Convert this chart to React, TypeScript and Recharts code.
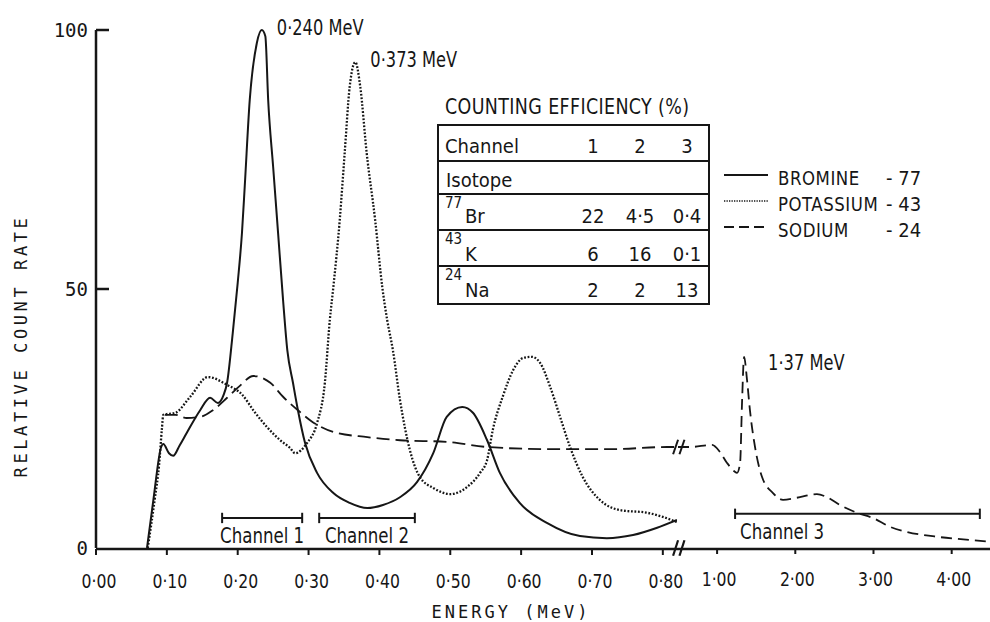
import { LineChart, Line, XAxis, YAxis, ReferenceLine, ReferenceDot } from 'recharts'

const INK = '#161616'
const NARROW = "'Liberation Sans Narrow', 'DejaVu Sans Condensed', 'Liberation Sans', sans-serif"
const MONO = "'DejaVu Sans Mono', 'Liberation Mono', monospace"

// [energy (MeV), relative count rate]
const bromine: [number, number][] = [
  [0.072, 0], [0.081, 9.3], [0.092, 19.5], [0.095, 20.1], [0.103, 18.3], [0.109, 17.8],
  [0.118, 19.8], [0.128, 22.2], [0.147, 26.6], [0.161, 29.0], [0.172, 28.0], [0.18, 29.5],
  [0.185, 31.9], [0.193, 41.5], [0.2, 51.2], [0.206, 60.8], [0.21, 70], [0.217, 86.5],
  [0.227, 97.5], [0.234, 100], [0.239, 98.8], [0.243, 86.5], [0.25, 73.6], [0.257, 60.8],
  [0.264, 47.9], [0.27, 38.2], [0.278, 31.9], [0.285, 26.6], [0.295, 20.3], [0.312, 14.5],
  [0.335, 10.6], [0.358, 8.7], [0.383, 7.7], [0.405, 8.3], [0.429, 9.8], [0.453, 12.7],
  [0.476, 18.3], [0.495, 25.3], [0.517, 27.2], [0.532, 26.1], [0.552, 20.8], [0.57, 14.5],
  [0.598, 8.7], [0.637, 4.8], [0.683, 2.3], [0.721, 1.9], [0.758, 2.5], [0.792, 3.9], [0.82, 5.4],
]

const potassium: [number, number][] = [
  [0.073, 0], [0.083, 9.5], [0.089, 16], [0.093, 23], [0.095, 25.7], [0.112, 26.1],
  [0.133, 29.2], [0.158, 33.0], [0.185, 31.5], [0.207, 29.5], [0.222, 26.6], [0.241, 23.4],
  [0.26, 20.8], [0.274, 19.3], [0.281, 18.3], [0.298, 20.3], [0.312, 24.1], [0.323, 31.9],
  [0.33, 44.0], [0.335, 50.4], [0.344, 63.3], [0.351, 76.3], [0.358, 89.0], [0.366, 93.8],
  [0.373, 89.0], [0.382, 76.3], [0.394, 63.3], [0.404, 50.4], [0.411, 44.0], [0.419, 38.2],
  [0.429, 28.6], [0.443, 18.9], [0.457, 13.7], [0.476, 11.6], [0.5, 10.4], [0.524, 11.8],
  [0.542, 14.5], [0.552, 17.0], [0.56, 22.8], [0.574, 29.2], [0.589, 34.4], [0.603, 36.7],
  [0.615, 36.9], [0.627, 35.7], [0.641, 31.1], [0.655, 25.3], [0.669, 19.5], [0.687, 13.7],
  [0.711, 9.3], [0.74, 7.3], [0.778, 6.8], [0.8, 6.0], [0.82, 5.0],
]

// sodium below the axis break (low-energy scale)
const sodiumLow: [number, number][] = [
  [0.097, 25.7], [0.112, 25.7], [0.128, 25.1], [0.147, 25.3], [0.165, 26.6], [0.185, 29.0],
  [0.203, 31.3], [0.222, 33.2], [0.246, 31.9], [0.264, 29.2], [0.285, 26.6], [0.306, 24.3],
  [0.335, 22.4], [0.383, 21.4], [0.429, 20.8], [0.495, 20.5], [0.552, 19.5], [0.637, 19.1],
  [0.73, 19.1], [0.806, 19.5], [0.82, 19.5],
]

// sodium above the axis break (compressed high-energy scale)
const sodiumHigh: [number, number][] = [
  [0.5, 19.5], [0.655, 19.5], [0.936, 19.9], [1.038, 18.5], [1.128, 16.4], [1.22, 14.8],
  [1.255, 14.5], [1.294, 16.4], [1.32, 28.6], [1.345, 36.9], [1.383, 32.4], [1.42, 26.6],
  [1.485, 19.5], [1.575, 13.7], [1.715, 10.6], [1.843, 9.3], [2.02, 9.7], [2.277, 10.4],
  [2.405, 9.8], [2.571, 8.3], [2.788, 6.8], [2.992, 5.8], [3.21, 4.1], [3.43, 3.1],
  [3.85, 2.1], [4.27, 1.5], [4.49, 1.2],
]

const loTicks = [0, 0.1, 0.2, 0.3, 0.4, 0.5, 0.6, 0.7, 0.8]
const hiTicks = [1, 2, 3, 4]
const yTicks = [0, 50, 100]

const peaks = [
  { text: '0·240 MeV', e: 0.234, v: 100, axis: 'lo' },
  { text: '0·373 MeV', e: 0.366, v: 93.8, axis: 'lo' },
  { text: '1·37 MeV', e: 1.345, v: 36.9, axis: 'hi' },
]

const channelWindows = [
  { name: 'Channel 1', from: 0.178, to: 0.291, level: 5.8, axis: 'lo' },
  { name: 'Channel 2', from: 0.315, to: 0.45, level: 5.8, axis: 'lo' },
  { name: 'Channel 3', from: 1.23, to: 4.36, level: 6.6, axis: 'hi' },
]

const legendNames = ['BROMINE', 'POTASSIUM', 'SODIUM']
const legendMass = ['77', '43', '24']

const channels = ['1', '2', '3']
const isotopeMass = ['77', '43', '24']
const isotopeSymbol = ['Br', 'K', 'Na']
const efficiency = [
  ['22', '4·5', '0·4'],
  ['6', '16', '0·1'],
  ['2', '2', '13'],
]

const toPoints = (rows: [number, number][]) => rows.map(([e, v]) => ({ e, v }))
const fmt = (v: number) => v.toFixed(2).replace('.', '·')

const BREAK = 0.822

const lineStyle = {
  bromine: { strokeWidth: 2, dash: undefined as string | undefined },
  potassium: { strokeWidth: 2.3, dash: '1.8 1.7' },
  sodium: { strokeWidth: 1.8, dash: '13 6' },
}

// horizontally squeezed text, to get the condensed typewriter look
function Squeezed({ x, y, anchor = 'start', size, sx = 0.87, family = NARROW, spacing, children }: any) {
  return (
    <text
      transform={`translate(${x} ${y}) scale(${sx} 1)`}
      textAnchor={anchor}
      fontSize={size}
      fontFamily={family}
      letterSpacing={spacing}
      fill={INK}
    >
      {children}
    </text>
  )
}

function YTick(props: any) {
  const { x, y, payload } = props
  return (
    <g>
      <text x={x} y={y} dy="0.36em" textAnchor="end" fill={INK} fontFamily={MONO} fontSize={19}>
        {payload.value}
      </text>
      {payload.value > 0 && (
        <line x1={x + 8} x2={x + 21} y1={y} y2={y} stroke={INK} strokeWidth={2.5} />
      )}
    </g>
  )
}

function XTick(props: any) {
  const { x, y, payload, shift = 0 } = props
  return (
    <Squeezed x={x + shift} y={y + 14} anchor="middle" size={20} sx={0.87}>
      {fmt(payload.value)}
    </Squeezed>
  )
}

export default function App() {
  const W = 990
  const H = 622
  const sodiumSeg = (dx: number) => [
    { x: BREAK + dx - 0.0035, y: 19.5 - 1.4 },
    { x: BREAK + dx + 0.0035, y: 19.5 + 1.4 },
  ]
  const axisSeg = (dx: number) => [
    { x: BREAK + dx - 0.0035, y: -1.5 },
    { x: BREAK + dx + 0.0035, y: 1.5 },
  ]

  return (
    <div style={{ position: 'absolute', left: 0, top: 0, width: W, height: H, background: '#fff' }}>
      <LineChart width={W} height={H} margin={{ top: 30, right: 0, bottom: 72, left: 0 }}>
        <XAxis
          xAxisId="lo"
          type="number"
          dataKey="e"
          domain={[0, 0.82]}
          allowDataOverflow
          ticks={loTicks}
          interval={0}
          padding={{ left: 0, right: 313 }}
          height={1}
          tickSize={6}
          tickMargin={19}
          tick={<XTick shift={3} />}
          axisLine={{ stroke: INK, strokeWidth: 2.5 }}
          tickLine={{ stroke: INK, strokeWidth: 2 }}
          label={{
            content: (p: any) => (
              <text
                x={p.viewBox.x + 415}
                y={p.viewBox.y + 69}
                textAnchor="middle"
                fill={INK}
                fontFamily={MONO}
                fontSize={17}
                letterSpacing={3}
              >
                ENERGY (MeV)
              </text>
            ),
          }}
        />
        <XAxis
          xAxisId="hi"
          type="number"
          dataKey="e"
          domain={[0.5, 4.49]}
          allowDataOverflow
          ticks={hiTicks}
          interval={0}
          padding={{ left: 582, right: 0 }}
          height={1}
          tickSize={6}
          tickMargin={18}
          tick={<XTick shift={2} />}
          axisLine={false}
          tickLine={{ stroke: INK, strokeWidth: 2 }}
        />
        <YAxis
          type="number"
          domain={[0, 100]}
          ticks={yTicks}
          interval={0}
          width={96}
          tickSize={0}
          tickMargin={8}
          tick={<YTick />}
          axisLine={{ stroke: INK, strokeWidth: 2.5 }}
          label={{
            content: (p: any) => {
              const cx = p.viewBox.x + 21
              const cy = p.viewBox.y + p.viewBox.height * 0.61
              return (
                <text
                  x={cx}
                  y={cy}
                  transform={`rotate(-90, ${cx}, ${cy})`}
                  textAnchor="middle"
                  dominantBaseline="central"
                  fill={INK}
                  fontFamily={MONO}
                  fontSize={17}
                  letterSpacing={3.6}
                >
                  RELATIVE COUNT RATE
                </text>
              )
            },
          }}
        />

        <Line
          xAxisId="lo"
          data={toPoints(bromine)}
          dataKey="v"
          name="BROMINE"
          type="monotone"
          dot={false}
          stroke={INK}
          strokeWidth={lineStyle.bromine.strokeWidth}
          isAnimationActive={false}
        />
        <Line
          xAxisId="lo"
          data={toPoints(potassium)}
          dataKey="v"
          name="POTASSIUM"
          type="monotone"
          dot={false}
          stroke={INK}
          strokeWidth={lineStyle.potassium.strokeWidth}
          strokeDasharray={lineStyle.potassium.dash}
          isAnimationActive={false}
        />
        <Line
          xAxisId="lo"
          data={toPoints(sodiumLow)}
          dataKey="v"
          name="SODIUM"
          type="monotone"
          dot={false}
          stroke={INK}
          strokeWidth={lineStyle.sodium.strokeWidth}
          strokeDasharray={lineStyle.sodium.dash}
          isAnimationActive={false}
        />
        <Line
          xAxisId="hi"
          data={toPoints(sodiumHigh)}
          dataKey="v"
          name="SODIUM"
          legendType="none"
          type="monotone"
          dot={false}
          stroke={INK}
          strokeWidth={lineStyle.sodium.strokeWidth}
          strokeDasharray="11 6"
          isAnimationActive={false}
        />

        {/* axis-break marks on the sodium curve and on the energy axis */}
        <ReferenceLine xAxisId="lo" segment={[{ x: BREAK - 0.002, y: 0 }, { x: BREAK + 0.005, y: 0 }]} stroke="#fff" strokeWidth={5} ifOverflow="visible" />
        {[-0.004, 0.005].map((dx) => (
          <ReferenceLine key={'s' + dx} xAxisId="lo" segment={sodiumSeg(dx)} stroke={INK} strokeWidth={2} ifOverflow="visible" />
        ))}
        {[-0.004, 0.005].map((dx) => (
          <ReferenceLine key={'a' + dx} xAxisId="lo" segment={axisSeg(dx)} stroke={INK} strokeWidth={2.2} ifOverflow="visible" />
        ))}

        {channelWindows.map((c) => (
          <ReferenceLine
            key={c.name}
            xAxisId={c.axis}
            segment={[{ x: c.from, y: c.level }, { x: c.to, y: c.level }]}
            stroke={INK}
            strokeWidth={2}
            ifOverflow="visible"
          />
        ))}
        {channelWindows.flatMap((c) =>
          [c.from, c.to].map((x) => (
            <ReferenceLine
              key={c.name + x}
              xAxisId={c.axis}
              segment={[{ x, y: c.level - 1 }, { x, y: c.level + 1 }]}
              stroke={INK}
              strokeWidth={2}
              ifOverflow="visible"
            />
          )),
        )}
        {channelWindows.map((c) => {
          const centred = c.axis === 'lo'
          return (
            <ReferenceDot
              key={'l' + c.name}
              xAxisId={c.axis}
              x={centred ? (c.from + c.to) / 2 : c.from}
              y={c.level}
              ifOverflow="visible"
              shape={(p: any) => (
                <Squeezed
                  x={p.cx + (centred ? 0 : 5)}
                  y={p.cy + 25}
                  anchor={centred ? 'middle' : 'start'}
                  size={21}
                  sx={0.88}
                >
                  {c.name}
                </Squeezed>
              )}
            />
          )
        })}

        {peaks.map((pk) => {
          const lo = pk.axis === 'lo'
          return (
            <ReferenceDot
              key={pk.text}
              xAxisId={pk.axis}
              x={pk.e}
              y={pk.v}
              ifOverflow="visible"
              shape={(p: any) => (
                <Squeezed x={p.cx + (lo ? 15 : 24)} y={p.cy + (lo ? 5 : 13)} size={21} sx={0.86}>
                  {pk.text}
                </Squeezed>
              )}
            />
          )
        })}
      </LineChart>

      {/* series key */}
      <div style={{ position: 'absolute', left: 722, top: 162, fontFamily: NARROW, fontSize: 20, color: INK }}>
        {legendNames.map((name, i) => {
          const st = [lineStyle.bromine, lineStyle.potassium, { strokeWidth: 1.8, dash: '10 5' }][i]
          return (
            <div key={name} style={{ display: 'flex', alignItems: 'center', height: 26 }}>
              <svg width={46} height={6} style={{ marginRight: 10 }}>
                <line
                  x1={2}
                  x2={46}
                  y1={3}
                  y2={3}
                  stroke={INK}
                  strokeWidth={i === 1 ? 1.5 : st.strokeWidth}
                  strokeDasharray={i === 1 ? '1.3 1.2' : st.dash}
                />
              </svg>
              <span style={{ width: 108, position: 'relative', top: 3, whiteSpace: 'nowrap' }}>
                <span style={{ display: 'inline-block', transform: 'scaleX(0.92)', transformOrigin: 'left', letterSpacing: 0.6 }}>
                  {name}
                </span>
              </span>
              <span style={{ position: 'relative', top: 3 }}>- {legendMass[i]}</span>
            </div>
          )
        })}
      </div>

      {/* counting efficiency table */}
      <div
        style={{
          position: 'absolute',
          left: 445,
          top: 97,
          fontFamily: NARROW,
          fontSize: 21,
          lineHeight: 1,
          color: INK,
          whiteSpace: 'nowrap',
          letterSpacing: 0.4,
          transform: 'scaleX(0.925)',
          transformOrigin: 'left',
        }}
      >
        COUNTING EFFICIENCY (%)
      </div>
      <div
        style={{
          position: 'absolute',
          left: 437,
          top: 124,
          width: 273,
          boxSizing: 'border-box',
          border: `2px solid ${INK}`,
          fontFamily: NARROW,
          fontSize: 20,
          lineHeight: 1,
          color: INK,
        }}
      >
        {[0, 1, 2, 3, 4].map((r) => {
          const heights = [34, 33, 36, 36, 38]
          const cols = [154, 201, 248]
          const values = r === 0 ? channels : r >= 2 ? efficiency[r - 2] : []
          const bottom = r === 3 ? 1 : 3
          return (
            <div
              key={r}
              style={{
                position: 'relative',
                height: heights[r],
                boxSizing: 'border-box',
                borderTop: r > 0 ? `2px solid ${INK}` : 'none',
              }}
            >
              {r === 0 && <span style={{ position: 'absolute', left: 6, bottom: 4 }}>Channel</span>}
              {r === 1 && <span style={{ position: 'absolute', left: 7, bottom: 3 }}>Isotope</span>}
              {r >= 2 && (
                <>
                  <span style={{ position: 'absolute', left: 6, top: 1, fontSize: 15 }}>{isotopeMass[r - 2]}</span>
                  <span style={{ position: 'absolute', left: 26, bottom }}>{isotopeSymbol[r - 2]}</span>
                </>
              )}
              {values.map((v, j) => (
                <span
                  key={j}
                  style={{
                    position: 'absolute',
                    left: cols[j] - 25,
                    width: 50,
                    textAlign: 'center',
                    bottom: r === 0 ? 4 : bottom,
                  }}
                >
                  {v}
                </span>
              ))}
            </div>
          )
        })}
      </div>
    </div>
  )
}
